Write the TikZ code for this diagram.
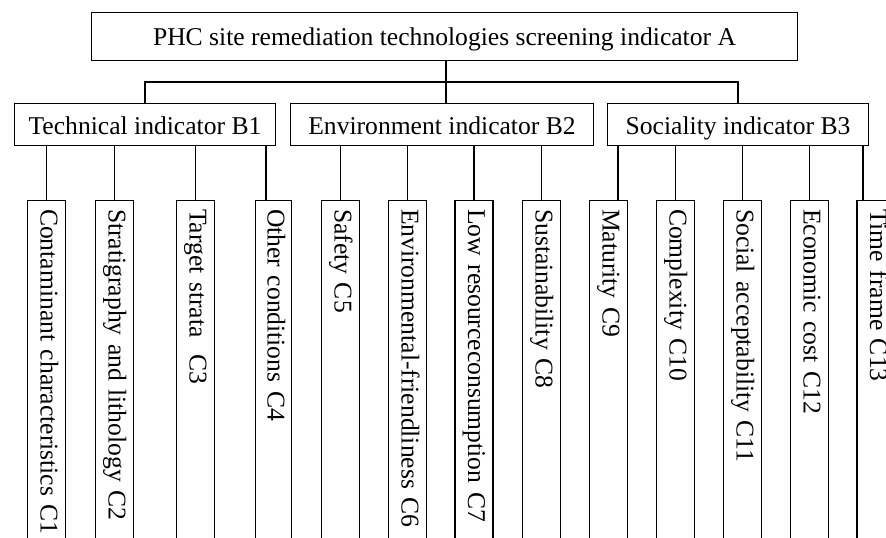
\documentclass[tikz,border=0pt]{standalone}
\usepackage{fontspec}
\setmainfont{Liberation Serif}
\usepackage{tikz}

\tikzset{
  box/.style={draw, line width=1.1pt, inner sep=0pt, font=\fontsize{25.6}{30}\selectfont,
    text height=20pt, text depth=0pt},
  cbox/.style={box, rotate=-90, anchor=west, minimum height=38pt,
    text width=380pt, align=left, inner xsep=9pt, text height=18pt, text depth=6pt},
  link/.style={line width=1.1pt}
}

\begin{document}
\begin{tikzpicture}[x=1pt,y=-1pt]
\useasboundingbox (0,0) rectangle (886,538);
\clip (0,0) rectangle (886,538);
% top level
\node [box, minimum width=706pt, minimum height=48pt, text height=18pt] (a) at (444.5,36.5) {PHC site remediation technologies screening indicator A};
% second level
\node [box, minimum width=261pt, minimum height=42pt] (b1) at (145,124.5) {Technical indicator B1};
\node [box, minimum width=303pt, minimum height=42pt] (b2) at (442,124.5) {Environment indicator B2};
\node [box, minimum width=261pt, minimum height=42pt] (b3) at (738,124.5) {Sociality indicator B3};
% third level
\node [cbox] (c1) at (46.5,199.5) {Contaminant characteristics C1};
\node [cbox] (c2) at (114.5,199.5) {Stratigraphy and lithology C2};
\node [cbox] (c3) at (195.5,199.5) {Target strata\ \ C3};
\node [cbox, minimum height=36pt] (c4) at (273.5,199.5) {Other conditions C4};
\node [cbox] (c5) at (340.5,199.5) {Safety C5};
\node [cbox] (c6) at (407.5,199.5) {Environmental-friendliness C6};
\node [cbox] (c7) at (474,199.5) {Low resourceconsumption C7};
\node [cbox] (c8) at (541.5,199.5) {Sustainability C8};
\node [cbox] (c9) at (608.5,199.5) {Maturity C9};
\node [cbox] (c10) at (675.5,199.5) {Complexity C10};
\node [cbox] (c11) at (742.5,199.5) {Social acceptability C11};
\node [cbox] (c12) at (809.5,199.5) {Economic cost C12};
\node [cbox] (c13) at (876,199.5) {Time frame C13};
% connectors
\draw [link] ([xshift=1.5pt]a.south) -- ([xshift=1.5pt]a.south |- b2.north);
\draw [link] (b1.north) -- ++(0,-21) -| (b3.north);
\draw [link] (c1.west) -- (c1.west |- b1.south);
\draw [link] (c2.west) -- (c2.west |- b1.south);
\draw [link] (c3.west) -- (c3.west |- b1.south);
\draw [link] ([xshift=-7.5pt]c4.west) -- ([xshift=-7.5pt]c4.west |- b1.south);
\draw [link] (c5.west) -- (c5.west |- b2.south);
\draw [link] (c6.west) -- (c6.west |- b2.south);
\draw [link] (c7.west) -- (c7.west |- b2.south);
\draw [link] (c8.west) -- (c8.west |- b2.south);
\draw [link] ([xshift=9.5pt]c9.west) -- ([xshift=9.5pt]c9.west |- b3.south);
\draw [link] (c10.west) -- (c10.west |- b3.south);
\draw [link] (c11.west) -- (c11.west |- b3.south);
\draw [link] (c12.west) -- (c12.west |- b3.south);
\draw [link] ([xshift=-13pt]c13.west) -- ([xshift=-13pt]c13.west |- b3.south);
\end{tikzpicture}
\end{document}
